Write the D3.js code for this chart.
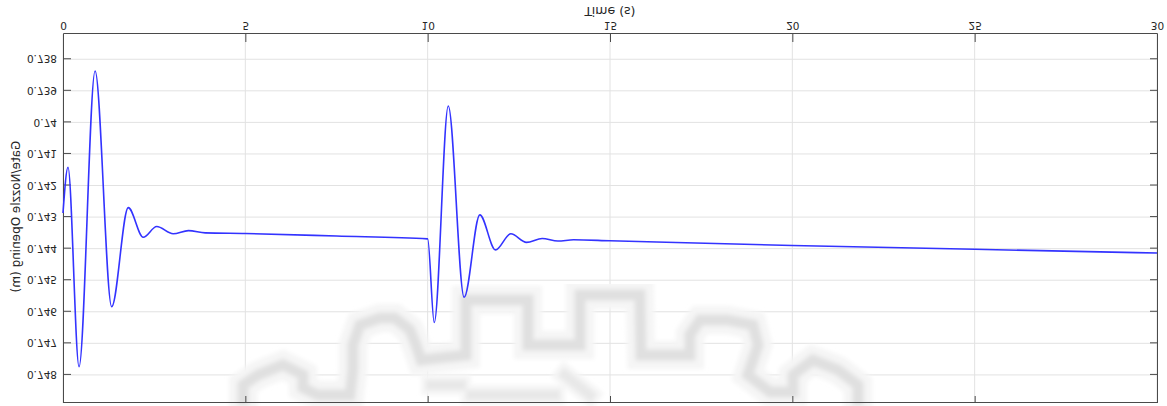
<!DOCTYPE html>
<html>
<head>
<meta charset="utf-8">
<script src="https://cdn.jsdelivr.net/npm/d3@7"></script>
<style>
  html, body { margin: 0; padding: 0; background: #fff; }
  svg { display: block; }
  text { font-family: "DejaVu Sans", sans-serif; fill: #262626; }
</style>
</head>
<body>
<svg id="chart" width="1167" height="406"></svg>
<script>
// Gate/nozzle opening response over time (two load steps at t = 0 s and t = 10 s)
const timeS = [0, 0.137, 0.44, 0.88, 1.335, 1.79, 2.2, 2.57, 3.02, 3.44, 3.9, 5, 7.5,
               10.0, 10.18, 10.565, 11.0, 11.43, 11.86, 12.28, 12.71, 13.14, 13.57, 14.0, 15, 20, 25, 30];
const openingM = [0.74287, 0.74142, 0.74774, 0.73837, 0.74584, 0.74270, 0.74364, 0.74330, 0.74353, 0.74343, 0.74350, 0.74352, 0.74360,
                  0.74369, 0.74634, 0.73948, 0.74554, 0.74293, 0.74404, 0.74353, 0.74380, 0.74368, 0.74376, 0.74372, 0.74375, 0.74390, 0.74402, 0.74414];

const xTicks = [0, 5, 10, 15, 20, 25, 30];
const yTicks = [0.738, 0.739, 0.740, 0.741, 0.742, 0.743, 0.744, 0.745, 0.746, 0.747, 0.748];
const xDomain = [0, 30];
const yDomain = [0.7372, 0.74889];
const xLabel = "Time (s)";
const yLabel = "Gate/Nozzle Opening (m)";

// Faint pixelated backdrop traces, in (time, opening) units
const backdropMain = [
  [4.94, 0.74879], [4.94, 0.74832], [5.35, 0.74800], [6.03, 0.74768], [6.58, 0.74800], [6.58, 0.74841],
  [6.99, 0.74864], [7.87, 0.74864], [7.95, 0.74784], [7.95, 0.74705], [8.14, 0.74642], [8.69, 0.74620],
  [9.10, 0.74620], [9.51, 0.74657], [9.68, 0.74705], [9.82, 0.74753], [11.05, 0.74737], [11.05, 0.74563],
  [12.75, 0.74563], [12.75, 0.74705], [14.18, 0.74705], [14.18, 0.74547], [15.82, 0.74547], [15.85, 0.74737],
  [17.19, 0.74737], [17.19, 0.74673], [17.47, 0.74626], [18.23, 0.74626], [18.92, 0.74642], [19.06, 0.74705],
  [18.78, 0.74800], [19.39, 0.74854], [20.02, 0.74854], [20.02, 0.74800], [20.56, 0.74753], [21.25, 0.74784],
  [21.80, 0.74832], [21.80, 0.74879]
];
const backdropExtra = [
  [[10.09, 0.74832], [10.91, 0.74832]],
  [[11.19, 0.74864], [13.49, 0.74864]],
  [[13.76, 0.74800], [14.45, 0.74864]]
];

const W = 1167, H = 406;
const plot = { left: 63, right: 1157, top: 3, bottom: 372 };

const svg = d3.select("#chart");
const defs = svg.append("defs");
defs.append("filter").attr("id", "soft")
  .append("feGaussianBlur").attr("stdDeviation", 2);

// The whole figure is drawn mirrored top-to-bottom
const g = svg.append("g").attr("transform", `translate(0,${H}) scale(1,-1)`);

const x = d3.scaleLinear().domain(xDomain).range([plot.left, plot.right]);
const y = d3.scaleLinear().domain(yDomain).range([plot.bottom, plot.top]);

// grid
g.append("g").selectAll("line").data(xTicks).join("line")
  .attr("x1", d => x(d)).attr("x2", d => x(d))
  .attr("y1", plot.top).attr("y2", plot.bottom)
  .attr("stroke", "#e2e2e2").attr("stroke-width", 1);
g.append("g").selectAll("line").data(yTicks).join("line")
  .attr("x1", plot.left).attr("x2", plot.right)
  .attr("y1", d => y(d)).attr("y2", d => y(d))
  .attr("stroke", "#e2e2e2").attr("stroke-width", 1);

// backdrop
const bline = d3.line().x(d => x(d[0])).y(d => y(d[1]));
const bd = g.append("g").attr("filter", "url(#soft)");
bd.append("path").attr("d", bline(backdropMain))
  .attr("fill", "none").attr("stroke", "#f5f5f5").attr("stroke-width", 28)
  .attr("stroke-linejoin", "miter").attr("stroke-linecap", "square");
backdropExtra.forEach(seg => bd.append("path").attr("d", bline(seg))
  .attr("fill", "none").attr("stroke", "#f5f5f5").attr("stroke-width", 20).attr("stroke-linecap", "square"));
bd.append("path").attr("d", bline(backdropMain))
  .attr("fill", "none").attr("stroke", "#e0e0e0").attr("stroke-width", 11)
  .attr("stroke-linejoin", "miter").attr("stroke-linecap", "square");
backdropExtra.forEach(seg => bd.append("path").attr("d", bline(seg))
  .attr("fill", "none").attr("stroke", "#e8e8e8").attr("stroke-width", 10).attr("stroke-linecap", "square"));

// axes with inward ticks on all four sides
const fmtY = d => String(+d.toFixed(3));
const axB = g.append("g").attr("transform", `translate(0,${plot.bottom})`)
  .call(d3.axisBottom(x).tickValues(xTicks).tickSizeInner(-8).tickSizeOuter(0).tickPadding(5));
const axL = g.append("g").attr("transform", `translate(${plot.left},0)`)
  .call(d3.axisLeft(y).tickValues(yTicks).tickFormat(fmtY).tickSizeInner(-8).tickSizeOuter(0).tickPadding(6));
const axT = g.append("g").attr("transform", `translate(0,${plot.top})`)
  .call(d3.axisTop(x).tickValues(xTicks).tickFormat("").tickSizeInner(-7).tickSizeOuter(0));
const axR = g.append("g").attr("transform", `translate(${plot.right},0)`)
  .call(d3.axisRight(y).tickValues(yTicks).tickFormat("").tickSizeInner(-7).tickSizeOuter(0));
[axB, axL, axT, axR].forEach(a => {
  a.select(".domain").attr("stroke", "#4a4a4a");
  a.selectAll(".tick line").attr("stroke", "#4a4a4a");
  a.selectAll("text").attr("font-family", "DejaVu Sans").attr("font-size", 10.5).attr("fill", "#262626");
});

// data line
g.append("path")
  .datum(timeS.map((t, i) => [t, openingM[i]]))
  .attr("d", d3.line().x(d => x(d[0])).y(d => y(d[1])).curve(d3.curveMonotoneX))
  .attr("fill", "none").attr("stroke", "#3333ff").attr("stroke-width", 1.6);

// axis titles
g.append("text")
  .attr("x", 610).attr("y", 396)
  .attr("text-anchor", "middle").attr("dominant-baseline", "middle")
  .attr("font-size", 12.5).text(xLabel);
g.append("text")
  .attr("transform", `translate(16,${(plot.top + plot.bottom) / 2 + 2}) rotate(-90)`)
  .attr("text-anchor", "middle").attr("dominant-baseline", "middle")
  .attr("font-size", 12).text(yLabel);
</script>
</body>
</html>
